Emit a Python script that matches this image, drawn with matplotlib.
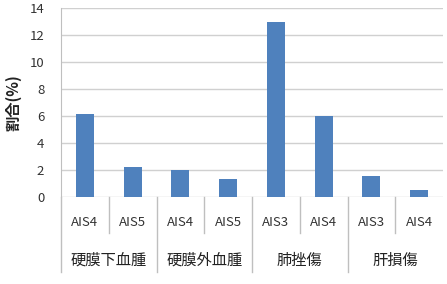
import numpy as np
import matplotlib.pyplot as plt
from matplotlib.transforms import blended_transform_factory

plt.rcParams['font.family'] = ['Noto Sans CJK JP', 'DejaVu Sans']

groups = ['硬膜下血腫', '硬膜外血腫', '肺挫傷', '肝損傷']
sub_labels = [['AIS4', 'AIS5'], ['AIS4', 'AIS5'], ['AIS3', 'AIS4'], ['AIS3', 'AIS4']]
values = [6.15, 2.25, 2.0, 1.35, 12.95, 6.0, 1.55, 0.55]

W, H = 447, 284
fig = plt.figure(figsize=(W / 100, H / 100), dpi=100)
left, right, top, bottom = 61, 443, 8, 197
ax = fig.add_axes([left / W, 1 - bottom / H, (right - left) / W, (bottom - top) / H])

x = np.arange(len(values))
ax.bar(x, values, width=0.38, color='#4F81BD', zorder=3)

ax.set_xlim(-0.5, len(values) - 0.5)
ax.set_ylim(0, 14)
ax.set_yticks(np.arange(0, 15, 2))
ax.grid(axis='y', color='#D0D0D0', linewidth=1.0, zorder=0)
ax.set_xticks([])
ax.tick_params(axis='y', length=0, pad=12, labelsize=9.5, labelcolor='#333333')
for s in ['top', 'right', 'bottom']:
    ax.spines[s].set_visible(False)
ax.spines['left'].set_color('#BFBFBF')
ax.spines['left'].set_bounds(0, 14)

ax.set_ylabel('割合(%)', fontsize=11, fontweight='bold', color='#222222', labelpad=6)

trans = blended_transform_factory(ax.transData, ax.transAxes)
ah = bottom - top
short_y = -(233 - bottom) / ah
long_y = -(272 - bottom) / ah
sub_y = -(223 - bottom) / ah
grp_y = -(260 - bottom) / ah

# category separators
for b in range(len(values)):
    xb = b - 0.5
    y1 = long_y if b % 2 == 0 else short_y
    ax.plot([xb, xb], [0, y1], transform=trans, color='#BFBFBF', lw=1.0, clip_on=False)

i = 0
for g, subs in zip(groups, sub_labels):
    for s in subs:
        ax.text(i, sub_y, s, transform=trans, ha='center', va='center', fontsize=9.5, color='#333333')
        i += 1
    ax.text(i - 1.5, grp_y, g, transform=trans, ha='center', va='center', fontsize=11, color='#222222')

fig.savefig('out.png', dpi=100)
